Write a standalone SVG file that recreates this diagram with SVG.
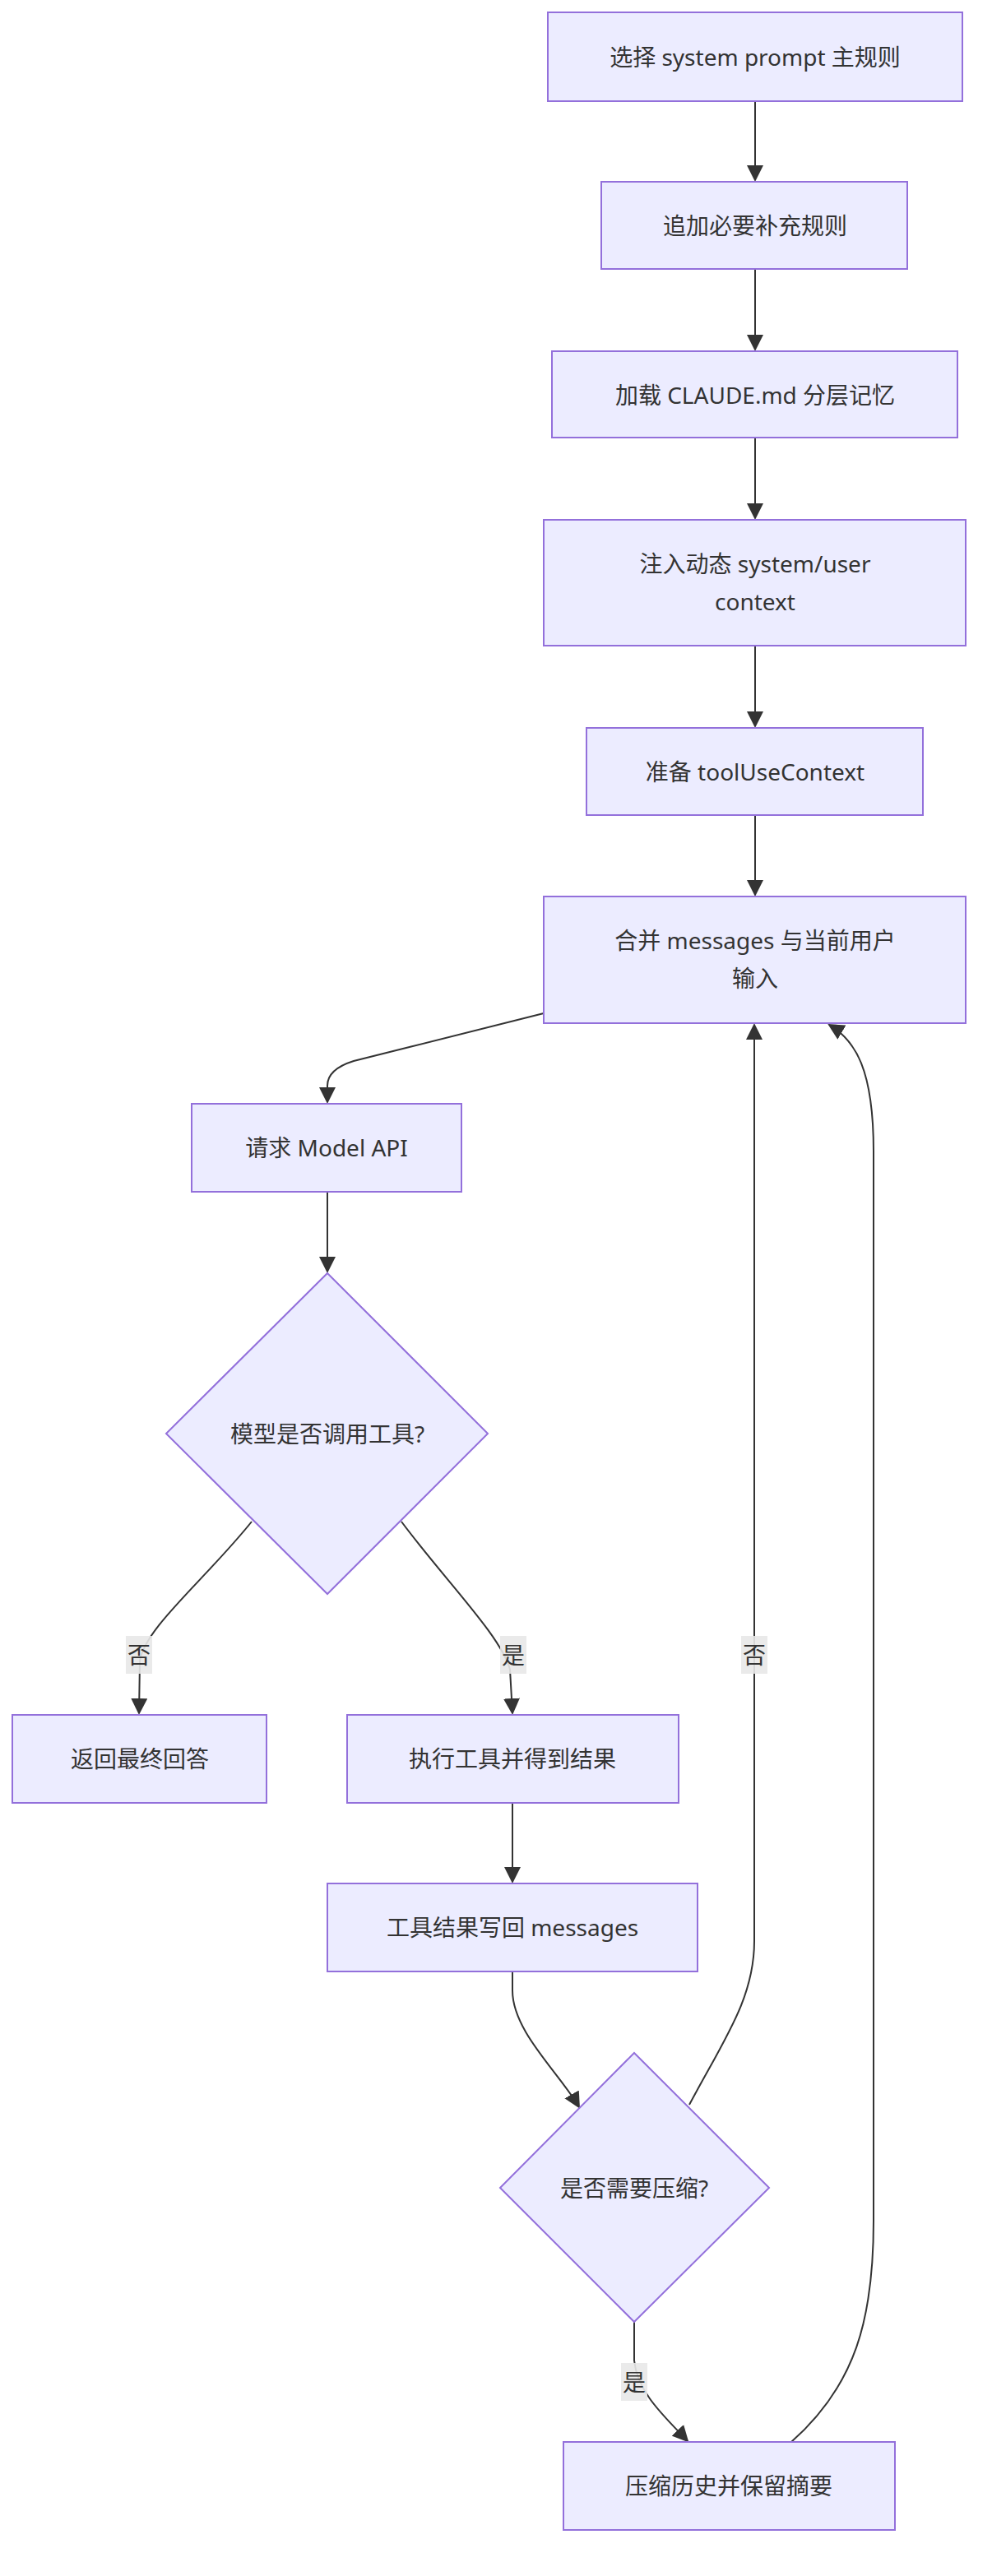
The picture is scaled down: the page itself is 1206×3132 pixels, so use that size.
<svg xmlns="http://www.w3.org/2000/svg" width="1206" height="3132" viewBox="0 0 1206 3132">
<style>
.n{fill:#ECECFF;stroke:#9370DB;stroke-width:2}
.t{font-family:"Noto Sans","Noto Sans CJK SC",sans-serif;font-size:28px;fill:#333;text-anchor:middle;dominant-baseline:central}
.e{fill:none;stroke:#333;stroke-width:2;marker-end:url(#a)}
.lb{fill:#e8e8e8;opacity:0.9}
</style>
<defs><marker id="a" markerUnits="userSpaceOnUse" markerWidth="20" markerHeight="20" viewBox="0 0 10 10" refX="9" refY="5" orient="auto"><path d="M0,0L10,5L0,10z" fill="#333"/></marker></defs>
<rect width="1206" height="3132" fill="#fff"/>
<g id="edges">
<path class="e" d="M918,123V219"/>
<path class="e" d="M918,327V425"/>
<path class="e" d="M918,532V630"/>
<path class="e" d="M918,785V883"/>
<path class="e" d="M918,991V1088"/>
<path class="e" d="M661,1232L430,1290Q398,1300 398,1320L398,1340"/>
<path class="e" d="M398,1449V1546"/>
<path class="e" d="M306,1850C250,1920 175,1980 170,2020L169,2083"/>
<path class="e" d="M488,1850C540,1920 610,1990 620,2030L623,2083"/>
<path class="e" d="M623,2192V2288"/>
<path class="e" d="M623,2397L623,2420C623,2470 680,2520 704,2562"/>
<path class="e" d="M838,2559C880,2480 917,2430 917,2360L917,1246"/>
<path class="e" d="M771,2823L771,2870C775,2910 810,2940 836,2968"/>
<path class="e" d="M962,2969C1040,2900 1062,2820 1062,2700L1062,1400C1062,1300 1040,1265 1008,1246"/>
<rect class="lb" x="153" y="1989" width="32" height="46"/><text class="t" x="169" y="2012">否</text>
<rect class="lb" x="608" y="1989" width="32" height="46"/><text class="t" x="624" y="2012">是</text>
<rect class="lb" x="901" y="1989" width="32" height="46"/><text class="t" x="917" y="2012">否</text>
<rect class="lb" x="755" y="2873" width="32" height="46"/><text class="t" x="771" y="2896">是</text>
</g>
<g id="n1"><rect class="n" x="666" y="15" width="504" height="108"/><text class="t" x="918" y="69">选择 system prompt 主规则</text></g>
<g id="n2"><rect class="n" x="731" y="221" width="372" height="106"/><text class="t" x="918" y="274">追加必要补充规则</text></g>
<g id="n3"><rect class="n" x="671" y="427" width="493" height="105"/><text class="t" x="918" y="480">加载 CLAUDE.md 分层记忆</text></g>
<g id="n4"><rect class="n" x="661" y="632" width="513" height="153"/><text class="t" x="918" y="685">注入动态 system/user</text><text class="t" x="918" y="731">context</text></g>
<g id="n5"><rect class="n" x="713" y="885" width="409" height="106"/><text class="t" x="918" y="938">准备 toolUseContext</text></g>
<g id="n6"><rect class="n" x="661" y="1090" width="513" height="154"/><text class="t" x="918" y="1143">合并 messages 与当前用户</text><text class="t" x="918" y="1189">输入</text></g>
<g id="n7"><rect class="n" x="233" y="1342" width="328" height="107"/><text class="t" x="397" y="1395">请求 Model API</text></g>
<g id="n8"><polygon class="n" points="398,1548 593,1743 398,1938 202,1743"/><text class="t" x="398" y="1743">模型是否调用工具?</text></g>
<g id="n9"><rect class="n" x="15" y="2085" width="309" height="107"/><text class="t" x="170" y="2138">返回最终回答</text></g>
<g id="n10"><rect class="n" x="422" y="2085" width="403" height="107"/><text class="t" x="623" y="2138">执行工具并得到结果</text></g>
<g id="n11"><rect class="n" x="398" y="2290" width="450" height="107"/><text class="t" x="623" y="2343">工具结果写回 messages</text></g>
<g id="n12"><polygon class="n" points="771,2496 935,2660 771,2823 608,2660"/><text class="t" x="771" y="2660">是否需要压缩?</text></g>
<g id="n13"><rect class="n" x="685" y="2969" width="403" height="107"/><text class="t" x="886" y="3022">压缩历史并保留摘要</text></g>
</svg>
